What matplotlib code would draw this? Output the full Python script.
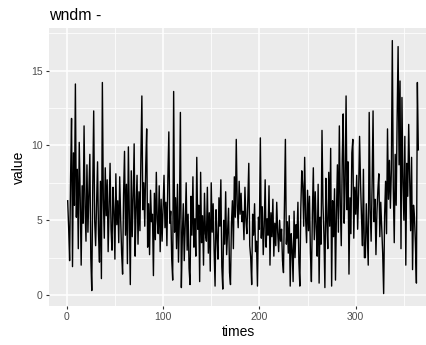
import numpy as np
import matplotlib
matplotlib.use('Agg')
import matplotlib.pyplot as plt
from matplotlib.ticker import MultipleLocator

# ──── Data (daily values) ─────────────────────────────────────
wndm = [
    6.3, 4.5, 2.3, 7.8, 11.8, 1.9, 9.5, 6.0, 14.1, 5.2,
    8.4, 3.1, 10.2, 6.5, 2.0, 7.3, 4.8, 11.3, 5.9, 3.6,
    8.7, 4.2, 6.8, 9.4, 2.5, 0.3, 7.1, 12.3, 5.0, 3.3,
    6.2, 8.9, 4.1, 2.2, 7.6, 1.1, 14.2, 6.4, 3.8, 8.5,
    5.3, 7.7, 2.9, 6.0, 8.8, 4.4, 3.0, 7.2, 5.6, 2.4,
    8.1, 4.7, 6.3, 3.5, 7.9, 5.1, 2.8, 1.4, 6.7, 9.6,
    4.0, 7.4, 2.1, 9.9, 5.5, 0.7, 8.3, 3.9, 6.6, 10.1,
    2.6, 5.8, 8.0, 3.4, 6.9, 4.3, 9.2, 13.3, 5.7, 7.5,
    4.6, 8.6, 11.1, 3.2, 6.1, 2.7, 7.0, 4.9, 5.4, 1.3,
    6.8, 3.7, 8.2, 5.0, 4.1, 7.3, 2.9, 6.4, 3.6, 5.9,
    8.0, 4.5, 6.2, 3.3, 7.8, 10.9, 4.8, 5.6, 2.4, 1.0,
    13.6, 4.2, 6.5, 3.1, 7.4, 2.2, 5.2, 12.2, 0.5, 3.9,
    6.1, 2.3, 4.7, 7.5, 3.0, 5.4, 1.8, 0.7, 6.6, 4.0,
    7.9, 3.2, 5.1, 2.6, 9.2, 4.4, 6.0, 0.9, 8.2, 3.5,
    5.3, 2.0, 6.8, 4.1, 3.6, 7.2, 2.8, 5.5, 1.6, 7.5,
    4.2, 6.1, 3.0, 0.6, 5.7, 3.9, 2.4, 6.5, 4.6, 7.7,
    1.9, 0.4, 5.0, 3.4, 6.9, 2.7, 4.3, 5.8, 1.5, 0.7,
    4.8, 6.3, 3.1, 7.9, 5.2, 10.4, 6.0, 4.5, 7.6, 5.4,
    6.8, 4.9, 5.6, 3.7, 7.2, 5.0, 4.1, 6.3, 8.8, 3.3,
    2.5, 0.7, 5.4, 4.0, 6.1, 2.9, 3.6, 0.6, 5.2, 4.4,
    10.5, 3.8, 5.9, 2.7, 4.6, 7.7, 3.2, 5.1, 4.0, 7.3,
    2.0, 5.5, 3.9, 6.4, 2.6, 4.8, 3.3, 6.2, 4.2, 2.9,
    5.0, 3.6, 4.4, 2.3, 1.5, 6.0, 10.4, 3.4, 4.9, 2.8,
    5.3, 0.6, 4.1, 3.0, 0.9, 5.6, 2.5, 4.7, 3.8, 6.2,
    2.2, 0.6, 5.8, 8.3, 7.3, 4.6, 9.2, 5.1, 3.5, 7.0,
    4.3, 6.6, 2.8, 0.9, 5.4, 8.5, 3.7, 6.9, 4.5, 2.6,
    7.4, 0.8, 5.2, 3.4, 11.0, 6.1, 4.0, 0.5, 7.8, 5.0,
    3.1, 8.2, 4.6, 9.8, 0.6, 6.3, 3.9, 7.1, 1.0, 5.5,
    8.7, 4.2, 11.3, 6.0, 3.3, 9.0, 12.1, 4.8, 7.4, 13.3,
    5.7, 8.9, 1.4, 6.5, 4.1, 9.5, 10.4, 3.8, 7.2, 5.4,
    8.0, 4.4, 6.8, 10.6, 7.5, 5.2, 3.3, 8.4, 2.5, 2.5,
    6.1, 4.0, 2.0, 12.2, 5.7, 3.6, 7.3, 12.3, 4.9, 6.4,
    2.7, 5.5, 7.0, 8.1, 3.9, 6.2, 4.5, 2.8, 0.1, 5.3,
    7.6, 4.1, 11.1, 6.4, 9.0, 5.8, 8.3, 17.0, 7.2, 3.5,
    9.4, 6.0, 11.8, 16.6, 8.7, 14.3, 3.1, 13.2, 7.5, 5.0,
    10.6, 2.0, 8.8, 6.6, 11.4, 7.9, 4.3, 9.2, 1.7, 6.0,
    5.2, 3.4, 0.8, 14.2, 9.7,
]
times = np.arange(1, len(wndm) + 1)

TITLE = "wndm -"
X_TICKS = [0, 100, 200, 300]
Y_TICKS = [0, 5, 10, 15]

# ──── Figure (ggplot2 theme_gray look) ────────────────────────
plt.rcParams['font.family'] = ['Liberation Sans', 'DejaVu Sans']
W, H = 427, 345
fig = plt.figure(figsize=(W / 100, H / 100), dpi=100)
ax = fig.add_axes([49 / W, 39 / H, (W - 49) / W, 278 / H])

ax.set_facecolor('#EBEBEB')
for s in ax.spines.values():
    s.set_visible(False)

ax.plot(times, wndm, color='black', lw=1.0)

ax.set_xlim(-18.4, 374)
ax.set_ylim(-0.73, 17.84)
ax.set_xticks(X_TICKS)
ax.set_yticks(Y_TICKS)
ax.xaxis.set_minor_locator(MultipleLocator(50))
ax.yaxis.set_minor_locator(MultipleLocator(2.5))
ax.grid(which='major', color='white', lw=1.1)
ax.grid(which='minor', color='white', lw=0.55)
ax.set_axisbelow(True)
ax.tick_params(which='major', length=2.5, width=0.8, color='#333333',
               labelcolor='#4D4D4D', labelsize=7.5, pad=2)
ax.tick_params(which='minor', length=0)

ax.set_xlabel('times', fontsize=10, labelpad=2)
ax.set_ylabel('value', fontsize=10, labelpad=4)
ax.set_title(TITLE, loc='left', fontsize=11.5, pad=6)

fig.savefig('out.png', dpi=100)
